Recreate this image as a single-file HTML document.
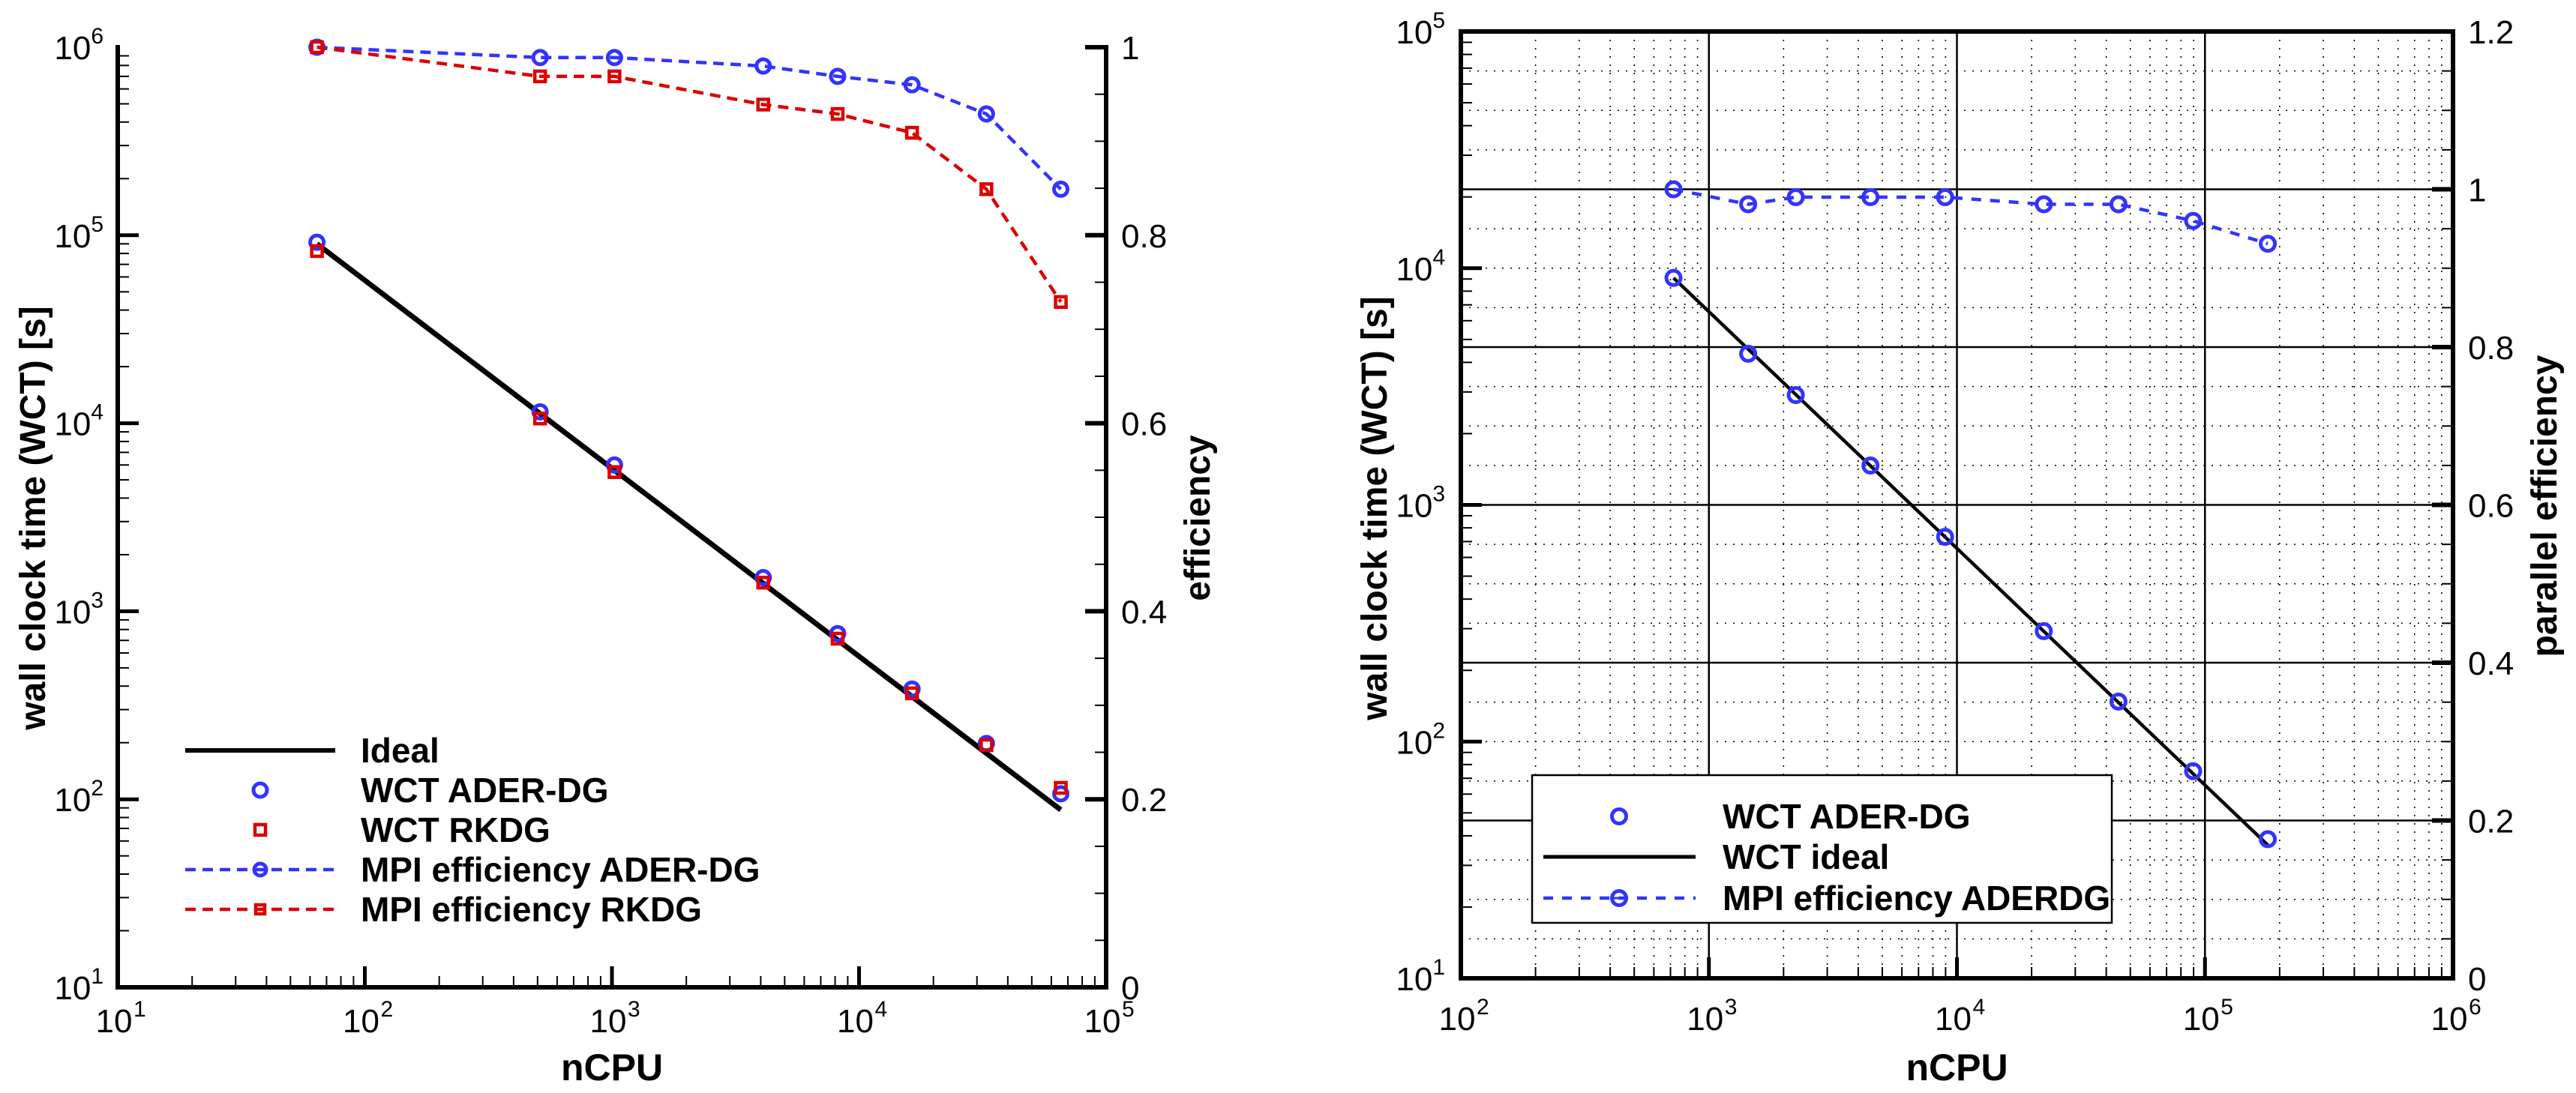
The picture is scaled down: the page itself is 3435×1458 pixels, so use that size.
<!DOCTYPE html>
<html><head><meta charset="utf-8"><style>
html,body{margin:0;padding:0;background:#fff}
svg{display:block}
text{font-family:"Liberation Sans",sans-serif;fill:#000}
</style></head><body>
<svg id="chart" width="3435" height="1458" viewBox="0 0 3435 1458" xmlns="http://www.w3.org/2000/svg"></svg>
<script>
// ---- Left plot data ----
const leftNcpu = [64, 512, 1024, 4096, 8192, 16384, 32768, 65536];
const leftWctAder = [91800, 11500, 6000, 1510, 760, 386, 198, 107];
const leftWctRk = [82400, 10600, 5500, 1420, 715, 366, 194, 115];
const leftEffAder = [1.0, 0.989, 0.989, 0.980, 0.969, 0.960, 0.929, 0.849];
const leftEffRk = [1.0, 0.969, 0.969, 0.939, 0.929, 0.909, 0.849, 0.729];
const leftIdealBase = 90000;
const leftXTickExp = [1, 2, 3, 4, 5];
const leftYTickExp = [1, 2, 3, 4, 5, 6];
const leftEffTicks = ["0", "0.2", "0.4", "0.6", "0.8", "1"];
const leftLegend = ["Ideal", "WCT ADER-DG", "WCT RKDG", "MPI efficiency ADER-DG", "MPI efficiency RKDG"];
// ---- Right plot data ----
const rightNcpu = [720, 1440, 2240, 4480, 8960, 22400, 44800, 89600, 179200];
const rightWct = [9100, 4350, 2910, 1466, 733, 293, 147.6, 75, 38.7];
const rightEff = [1.0, 0.981, 0.990, 0.990, 0.990, 0.981, 0.981, 0.960, 0.931];
const rightIdealBase = 9100;
const rightXTickExp = [2, 3, 4, 5, 6];
const rightYTickExp = [1, 2, 3, 4, 5];
const rightEffTicks = ["0", "0.2", "0.4", "0.6", "0.8", "1", "1.2"];
const rightLegend = ["WCT ADER-DG", "WCT ideal", "MPI efficiency ADERDG"];

const NS = "http://www.w3.org/2000/svg";
const svg = document.getElementById("chart");
const BLUE = "#3333ff", RED = "#dd0000";
function mk(tag, attrs, parent) {
  const e = document.createElementNS(NS, tag);
  for (const k in attrs) e.setAttribute(k, attrs[k]);
  (parent || svg).appendChild(e);
  return e;
}
function line(g, x1, y1, x2, y2, w, c, dash) {
  const l = mk("line", {x1, y1, x2, y2, stroke: c || "#000", "stroke-width": w}, g);
  if (dash) l.setAttribute("stroke-dasharray", dash);
  return l;
}
function circle(g, cx, cy, r, c, w) {
  const e = mk("circle", {cx, cy, r, fill: "none", stroke: c, "stroke-width": w}, g);
  
  
  return e;
}
function square(g, cx, cy, s, c, w) {
  const e = mk("rect", {x: cx - s / 2, y: cy - s / 2, width: s, height: s, fill: "none", stroke: c, "stroke-width": w}, g);
  
  
  return e;
}
function text(g, x, y, str, size, anchor, bold) {
  const t = mk("text", {x, y, "font-size": size, "text-anchor": anchor || "start"}, g);
  if (bold) t.setAttribute("font-weight", "bold");
  t.textContent = str;
  return t;
}

function makePlot(cfg) {
  const g = mk("g", {});
  
  
  const {L, R, T, B, x0, x1, y0, y1, eMax} = cfg;
  const X = v => L + (Math.log10(v) - x0) / (x1 - x0) * (R - L);
  const Y = v => B - (Math.log10(v) - y0) / (y1 - y0) * (B - T);
  const E = v => B - v / eMax * (B - T);
  cfg.X = X; cfg.Y = Y; cfg.E = E;

  if (cfg.grid) {
    const gg = mk("g", {}, g);
    
    
    for (let d = x0; d < x1; d++) for (let k = 2; k <= 9; k++) line(gg, X(k * 10 ** d), T, X(k * 10 ** d), B, 1.6, "#000", "2,9");
    for (let i = 1; i < Math.round(eMax / 0.05); i++) if (i % 4) line(gg, L, E(i * 0.05), R, E(i * 0.05), 1.6, "#000", "2,9");
    for (let d = x0 + 1; d < x1; d++) line(gg, X(10 ** d), T, X(10 ** d), B, 2.5);
    for (let i = 1; i * 0.2 < eMax - 1e-6; i++) line(gg, L, E(i * 0.2), R, E(i * 0.2), 2.5);
  }
  const tg = mk("g", {}, g);
  
  
  for (let d = x0; d < x1; d++) {
    if (d > x0) line(tg, X(10 ** d), B, X(10 ** d), B - 28, 5);
    for (let k = 2; k <= 9; k++) line(tg, X(k * 10 ** d), B, X(k * 10 ** d), B - 15, 2);
  }
  for (let d = y0; d < y1; d++) {
    if (d > y0) line(tg, L, Y(10 ** d), L + 28, Y(10 ** d), 5);
    for (let k = 2; k <= 9; k++) line(tg, L, Y(k * 10 ** d), L + 15, Y(k * 10 ** d), 2);
  }
  for (let i = 1; i <= Math.round(eMax / 0.05); i++) {
    if (i % 4 === 0) line(tg, R, E(i * 0.05), R - 28, E(i * 0.05), 6);
    else line(tg, R, E(i * 0.05), R - 15, E(i * 0.05), 2);
  }
  // frame
  const fg = mk("g", {}, g);
  
  
  line(fg, L, T - 3, L, B + 3, 6);
  line(fg, L - 3, B, R + 3, B, 6);
  line(fg, R, T - 3, R, B + 3, 6);
  if (cfg.topFrame) line(fg, L - 3, T, R + 3, T, 6);

  const lg = mk("g", {}, g);
  
  
  cfg.xExp.forEach(e => {
    const x = X(10 ** e);
    const t = text(lg, x - 5, B + cfg.xLabOff, "10", 44, "middle");
    
    const s = text(lg, x + 21, B + cfg.xLabOff - 21, String(e), 30, "start");
    
  });
  cfg.yExp.forEach(e => {
    const y = Y(10 ** e);
    const t = mk("text", {x: L - cfg.yLabOff, y: y + 16, "font-size": 44, "text-anchor": "end"}, lg);
    
    t.textContent = "10";
    const sp = mk("tspan", {dy: -21, "font-size": 30}, t);
    sp.textContent = String(e);
  });
  cfg.effLabels.forEach((s, i) => {
    const t = text(lg, R + 20, E(i * 0.2) + 16, s, 44, "start");
    
  });
  const xt = text(g, (L + R) / 2, 1441, "nCPU", 50, "middle", true);
  
  
  const yt = text(g, 0, 0, "wall clock time (WCT) [s]", 48, "middle", true);
  yt.setAttribute("transform", `translate(${cfg.ytX},${cfg.ytY}) rotate(-90)`);
  
  
  const et = text(g, 0, 0, cfg.effTitle, 48, "middle", true);
  et.setAttribute("transform", `translate(${cfg.etX},${cfg.etY}) rotate(-90)`);
  
  
  cfg.g = g;
  return cfg;
}
function path(g, xs, ys, X, Y, w, c, dash, name) {
  const d = xs.map((v, i) => (i ? "L" : "M") + X(v).toFixed(1) + "," + Y(ys[i]).toFixed(1)).join(" ");
  const p = mk("path", {d, fill: "none", stroke: c, "stroke-width": w}, g);
  if (dash) p.setAttribute("stroke-dasharray", dash);
  
  
  return p;
}

// ---------- LEFT ----------
const P1 = makePlot({name: "left-chart", L: 157, R: 1475, T: 63, B: 1317, x0: 1, x1: 5, y0: 1, y1: 6, eMax: 1,
  xExp: leftXTickExp, yExp: leftYTickExp, effLabels: leftEffTicks, xLabOff: 60, yLabOff: 19,
  ytX: 60, ytY: 691, etX: 1613, etY: 691, effTitle: "efficiency", topFrame: false});
{
  const g = P1.g, X = P1.X, Y = P1.Y, E = P1.E;
  path(g, leftNcpu, leftNcpu.map(n => leftIdealBase * leftNcpu[0] / n), X, Y, 7, "#000", null, "ideal-line");
  path(g, leftNcpu, leftEffAder, X, E, 4.5, BLUE, "14,9", "mpi-eff-ader-line");
  path(g, leftNcpu, leftEffRk, X, E, 4.5, RED, "14,9", "mpi-eff-rkdg-line");
  leftNcpu.forEach((n, i) => {
    circle(g, X(n), Y(leftWctAder[i]), 9, BLUE, 5);
    square(g, X(n), Y(leftWctRk[i]), 14, RED, 4.5);
    circle(g, X(n), E(leftEffAder[i]), 9, BLUE, 5);
    square(g, X(n), E(leftEffRk[i]), 14, RED, 4.5);
  });
  const lg = mk("g", {}, g);
  
  
  const ly = [1001, 1054, 1107, 1160, 1213];
  line(lg, 247, ly[0], 447, ly[0], 6, "#000");
  circle(lg, 347, ly[1], 9, BLUE, 5);
  square(lg, 347, ly[2], 14, RED, 4.5);
  line(lg, 247, ly[3], 447, ly[3], 4.5, BLUE, "14,9");
  circle(lg, 347, ly[3], 8, BLUE, 5);
  line(lg, 247, ly[4], 447, ly[4], 4.5, RED, "14,9");
  square(lg, 347, ly[4], 12, RED, 4.5);
  leftLegend.forEach((s, i) => {
    const t = text(lg, 481, ly[i] + 16, s, 46, "start", true);
    
    
  });
}
// ---------- RIGHT ----------
const P2 = makePlot({name: "right-chart", grid: true, L: 1948, R: 3271, T: 42, B: 1305, x0: 2, x1: 6, y0: 1, y1: 5, eMax: 1.2,
  xExp: rightXTickExp, yExp: rightYTickExp, effLabels: rightEffTicks, xLabOff: 69, yLabOff: 21,
  ytX: 1849, ytY: 678, etX: 3409, etY: 675, effTitle: "parallel efficiency", topFrame: true});
{
  const g = P2.g, X = P2.X, Y = P2.Y, E = P2.E;
  path(g, rightNcpu, rightNcpu.map(n => rightIdealBase * rightNcpu[0] / n), X, Y, 4.5, "#000", null, "ideal-line");
  path(g, rightNcpu, rightEff, X, E, 4.5, BLUE, "13,12", "mpi-eff-ader-line");
  rightNcpu.forEach((n, i) => {
    circle(g, X(n), Y(rightWct[i]), 9.5, BLUE, 5);
    circle(g, X(n), E(rightEff[i]), 9.5, BLUE, 5);
  });
  const lg = mk("g", {}, g);
  
  
  mk("rect", {x: 2043, y: 1034, width: 773, height: 197, fill: "#fff", stroke: "#000", "stroke-width": 2.5}, lg);
  const ly = [1089, 1143, 1198];
  circle(lg, 2159, ly[0], 9.5, BLUE, 5);
  line(lg, 2058, ly[1], 2261, ly[1], 5, "#000");
  line(lg, 2058, ly[2], 2261, ly[2], 4.5, BLUE, "13,12");
  circle(lg, 2159, ly[2], 9.5, BLUE, 5);
  line(lg, 2151, ly[2], 2167, ly[2], 3, BLUE);
  rightLegend.forEach((s, i) => {
    const t = text(lg, 2297, ly[i] + 16, s, 46, "start", true);
    
    
  });
}
</script>
</body></html>
